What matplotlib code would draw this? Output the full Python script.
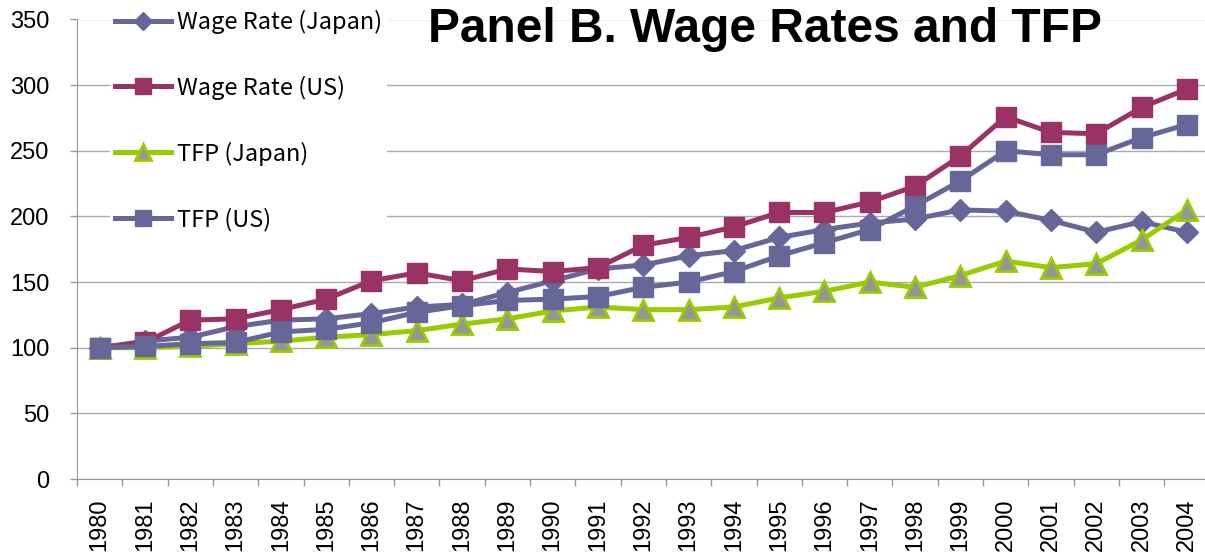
import numpy as np
import matplotlib
matplotlib.use("Agg")
from matplotlib import pyplot as plt

# Data (index, 1980 = 100)
years = [str(y) for y in range(1980, 2005)]
wage_japan = [100, 105, 108, 116, 121, 122, 126, 131, 133, 142, 151, 160, 163,
              170, 174, 184, 190, 195, 198, 205, 204, 197, 188, 196, 188]
wage_us = [100, 104, 121, 122, 129, 137, 151, 157, 151, 160, 158, 161, 178,
           184, 192, 203, 203, 211, 223, 246, 276, 264, 263, 283, 297]
tfp_japan = [100, 100, 101, 103, 105, 108, 110, 113, 118, 122, 128, 131, 129,
             129, 131, 138, 143, 150, 146, 155, 166, 161, 164, 182, 205]
tfp_us = [100, 101, 103, 104, 112, 114, 119, 127, 132, 136, 137, 139, 146,
          150, 158, 170, 180, 190, 208, 227, 250, 247, 247, 260, 270]

purple = "#666699"
maroon = "#993366"
green = "#99CC00"
grey = "#969696"

fig = plt.figure(figsize=(12.05, 5.54), dpi=100)
ax = fig.add_axes([77 / 1205, 75 / 554, 1132.5 / 1205, 459.5 / 554])

x = np.arange(len(years))
ax.plot(x, wage_japan, color=purple, lw=3.6, marker="D", ms=11,
        label="Wage Rate (Japan)")
ax.plot(x, wage_us, color=maroon, lw=3.6, marker="s", ms=15,
        label="Wage Rate (US)")
ax.plot(x, tfp_japan, color=green, lw=3.6, marker="^", ms=14, mfc=grey,
        mec=green, mew=2, label="TFP (Japan)")
ax.plot(x, tfp_us, color=purple, lw=3.6, marker="s", ms=15,
        label="TFP (US)")

ax.set_xlim(-0.5, len(years) - 0.5)
ax.set_ylim(0, 350)
ax.set_yticks(range(0, 351, 50))
ax.set_xticks(x)
ax.set_xticklabels(years, rotation=90, fontsize=17, family="Liberation Sans")
ax.set_xticks(np.arange(-0.5, len(years), 1), minor=True)
for lab in ax.get_yticklabels():
    lab.set_fontsize(17)
    lab.set_family("Liberation Sans")
ax.tick_params(axis="x", which="major", length=0, pad=14)
ax.tick_params(axis="x", which="minor", length=5, color="#999999", width=1)
ax.tick_params(axis="y", length=5, color="#999999", width=1, pad=15)

ax.grid(axis="y", color="#AAAAAA", lw=1)
ax.set_axisbelow(True)
for side in ["top", "right"]:
    ax.spines[side].set_visible(False)
for side in ["left", "bottom"]:
    ax.spines[side].set_color("#999999")

leg = ax.legend(loc="upper left", bbox_to_anchor=(110 / 1205, 1 - 5 / 554),
                bbox_transform=fig.transFigure, frameon=True,
                facecolor="white", edgecolor="none", framealpha=1,
                borderpad=0.2, borderaxespad=0, handlelength=2.4,
                handletextpad=0.25, labelspacing=1.77, numpoints=1,
                markerscale=0.8,
                prop={"family": "Noto Sans CJK JP", "size": 17})

fig.text(0.635, 1 - 42 / 554, "Panel B. Wage Rates and TFP", ha="center",
         va="baseline", fontsize=34.5, fontweight="bold",
         family="Liberation Sans")

fig.savefig("out.png", dpi=100)
